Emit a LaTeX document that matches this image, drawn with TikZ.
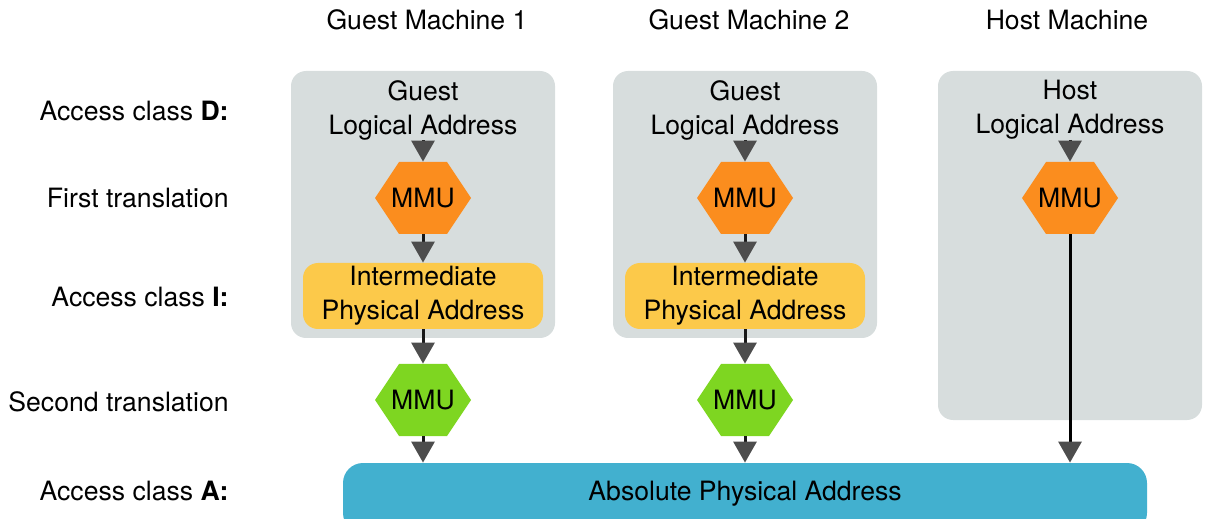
\documentclass[tikz,border=0pt]{standalone}
\usepackage{fontspec}
\setmainfont{TeX Gyre Heros}
\usetikzlibrary{arrows.meta}
\definecolor{boxgray}{HTML}{D7DDDD}
\definecolor{mmuorange}{HTML}{FB8D1E}
\definecolor{mmugreen}{HTML}{7ED621}
\definecolor{ipayellow}{HTML}{FCC94A}
\definecolor{absblue}{HTML}{42B0CF}
\definecolor{arrowgray}{HTML}{4D4D4D}

\begin{document}
\begin{tikzpicture}[x=0.5pt,y=-0.5pt]
        \tikzstyle{every node} = [rectangle, inner sep=0pt, align=center, font=\fontsize{13.3}{17}\selectfont]
        \tikzset{hexa/.style={minimum width=48pt, minimum height=36pt,
            path picture={\fill[#1] (path picture bounding box.west)
              -- ([xshift=12pt]path picture bounding box.north west)
              -- ([xshift=-12pt]path picture bounding box.north east)
              -- (path picture bounding box.east)
              -- ([xshift=-12pt]path picture bounding box.south east)
              -- ([xshift=12pt]path picture bounding box.south west) -- cycle;}}}
        \tikzstyle{ipa} = [fill=ipayellow, rounded corners=7.5pt, minimum width=120pt, minimum height=33pt]
        \tikzstyle{flow} = [draw=black!90, line width=1.5pt, -{Triangle[width=11.5pt,length=10.5pt,color=arrowgray]}]
        \useasboundingbox (0,0) rectangle (1207,519);
        % machine boxes
        \fill[boxgray, rounded corners=7.5pt] (291,71) rectangle (555,338);
        \fill[boxgray, rounded corners=7.5pt] (613,71) rectangle (877,338);
        \fill[boxgray, rounded corners=7.5pt] (938,71) rectangle (1202,420);
        % titles
        \node (t1) at (427,20) {Guest Machine 1};
        \node (t2) at (749,20) {Guest Machine 2};
        \node (t3) at (1067,20) {Host Machine};
        % row labels
        \node[anchor=east] (lD) at (229,111) {Access class \textbf{D:}};
        \node[anchor=east] (lF) at (229,198) {First translation};
        \node[anchor=east] (lI) at (229,297) {Access class \textbf{I:}};
        \node[anchor=east] (lS) at (229,402) {Second translation};
        \node[anchor=east] (lA) at (229,491) {Access class \textbf{A:}};
        % columns
        \node (la1) at (423,110) {Guest\\Logical Address};
        \node (la2) at (745,110) {Guest\\Logical Address};
        \node (la3) at (1070,110) {Host\\Logical Address};
        \node[hexa=mmuorange] (f1) at (423,198) {MMU};
        \node[hexa=mmuorange] (f2) at (745,198) {MMU};
        \node[hexa=mmuorange] (f3) at (1070,198) {MMU};
        \node[ipa] (i1) at (423,296) {Intermediate\\Physical Address};
        \node[ipa] (i2) at (745,296) {Intermediate\\Physical Address};
        \node[hexa=mmugreen] (s1) at (423,400) {MMU};
        \node[hexa=mmugreen] (s2) at (745,400) {MMU};
        \node[fill=absblue, rounded corners=10pt, minimum width=402pt, minimum height=35pt, text height=9.6pt, text depth=7pt] (abs) at (745,498) {Absolute Physical Address};
        \draw[flow] (la1) -- (f1);
        \draw[flow] (f1) -- (i1);
        \draw[flow] (i1) -- (s1);
        \draw[flow] (s1) -- (s1 |- abs.north);
        \draw[flow] (la2) -- (f2);
        \draw[flow] (f2) -- (i2);
        \draw[flow] (i2) -- (s2);
        \draw[flow] (s2) -- (s2 |- abs.north);
        \draw[flow] (la3) -- (f3);
        \draw[flow, draw=black] (f3) -- (f3 |- abs.north);
\end{tikzpicture}
\end{document}
